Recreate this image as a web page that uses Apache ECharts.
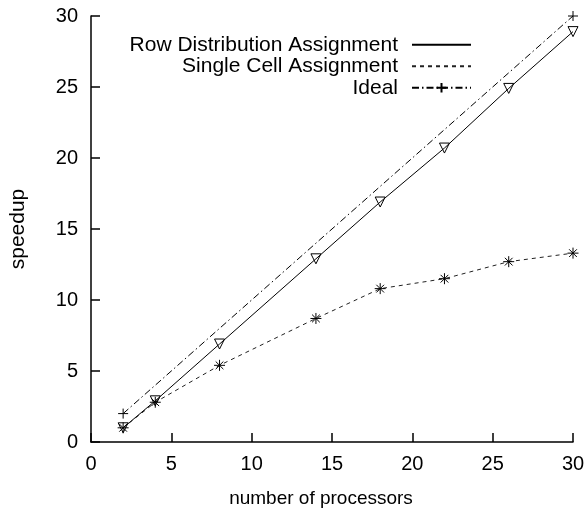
<!DOCTYPE html>
<html>
<head>
<meta charset="utf-8">
<script src="https://cdn.jsdelivr.net/npm/echarts@6/dist/echarts.min.js"></script>
<style>
html,body{margin:0;padding:0;background:#fff;}
#chart{width:588px;height:514px;}
</style>
</head>
<body>
<div id="chart"></div>
<script>
// ---- data ----
var processors = [2, 4, 8, 14, 18, 22, 26, 30];
var rowDistribution = [1.0, 2.9, 6.9, 12.9, 16.9, 20.7, 24.9, 28.9];
var singleCell = [1.0, 2.8, 5.4, 8.7, 10.8, 11.5, 12.7, 13.3];
var idealX = [2, 30];
var idealY = [2, 30];
var seriesNames = ['Row Distribution Assignment', 'Single Cell Assignment', 'Ideal'];
var xTitle = 'number of processors';
var yTitle = 'speedup';

function zip(xs, ys) { return xs.map(function (x, i) { return [x, ys[i]]; }); }

var FONT = '"Liberation Sans", Arial, Helvetica, sans-serif';
var asterisk = 'path://M0 5L10 5M5 0L5 10M1.5 1.5L8.5 8.5M8.5 1.5L1.5 8.5';
var plus = 'path://M0 5L10 5M5 0L5 10';

var axisCommon = {
  type: 'value', min: 0, max: 30, interval: 5,
  axisLine: { show: true, lineStyle: { color: '#000', width: 1.5 } },
  axisTick: { show: true, inside: true, length: 9, lineStyle: { color: '#000', width: 1.5 } },
  splitLine: { show: false },
  nameLocation: 'middle'
};

var hiddenIcon = { color: 'rgba(0,0,0,0)', borderColor: 'rgba(0,0,0,0)', borderWidth: 0, opacity: 0 };

var chart = echarts.init(document.getElementById('chart'), null, { renderer: 'canvas' });
chart.setOption({
  animation: false,
  backgroundColor: '#fff',
  textStyle: { fontFamily: FONT },
  grid: { left: 91, right: 15, top: 16, bottom: 72 },
  legend: {
    orient: 'vertical', align: 'right', right: 116, top: 34, padding: 0,
    itemWidth: 59, itemHeight: 12, itemGap: 0,
    textStyle: { fontSize: 21, color: '#000', fontFamily: FONT, padding: [0, 9, 0, 0], lineHeight: 21.5 },
    data: [
      { name: seriesNames[0], itemStyle: hiddenIcon },
      { name: seriesNames[1], itemStyle: hiddenIcon },
      { name: seriesNames[2] }
    ]
  },
  xAxis: Object.assign({}, axisCommon, {
    name: xTitle, nameGap: 47,
    nameTextStyle: { color: '#000', fontFamily: FONT, fontSize: 19, padding: [0, 22, 0, 0] },
    axisLabel: { color: '#000', fontSize: 20, fontFamily: FONT, margin: 12 }
  }),
  yAxis: Object.assign({}, axisCommon, {
    name: yTitle, nameGap: 62, nameRotate: 90,
    nameTextStyle: { color: '#000', fontFamily: FONT, fontSize: 21 },
    axisLabel: { color: '#000', fontSize: 20, fontFamily: FONT, margin: 13 }
  }),
  series: [
    {
      name: seriesNames[0], type: 'line', data: zip(processors, rowDistribution),
      symbol: 'triangle', symbolRotate: 180, symbolSize: 10,
      itemStyle: { color: 'rgba(0,0,0,0)', borderColor: '#000', borderWidth: 1 },
      lineStyle: { color: '#000', width: 1 }
    },
    {
      name: seriesNames[1], type: 'line', data: zip(processors, singleCell),
      symbol: asterisk, symbolSize: 11,
      itemStyle: { color: 'rgba(0,0,0,0)', borderColor: '#000', borderWidth: 1 },
      lineStyle: { color: '#222', width: 1, type: [4, 4] }
    },
    {
      name: seriesNames[2], type: 'line', data: zip(idealX, idealY),
      symbol: plus, symbolSize: 10,
      itemStyle: { color: 'rgba(0,0,0,0)', borderColor: '#000', borderWidth: 1 },
      lineStyle: { color: '#000', width: 1, type: [7, 3, 1.5, 3] }
    }
  ]
});
</script>
</body>
</html>
